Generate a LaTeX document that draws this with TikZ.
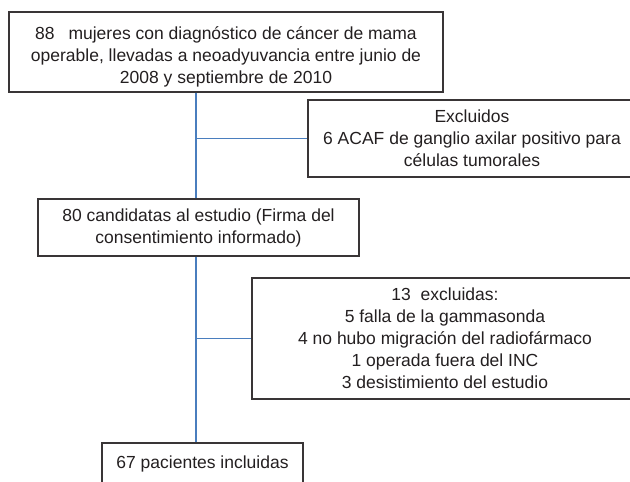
\documentclass[tikz,border=0pt]{standalone}
\usepackage{fontspec}
\setmainfont{Liberation Sans}
\definecolor{txt}{RGB}{35,31,32}
\definecolor{lnk}{RGB}{74,126,190}
\begin{document}
\begin{tikzpicture}[x=1pt,y=-1pt,
  box/.style={draw=txt!90, line width=1.1pt, text=txt, align=center, inner sep=0pt,
     font=\fontsize{17.5}{22}\selectfont, anchor=center},
  link/.style={draw=lnk, line width=1.2pt}]
\useasboundingbox (0,0) rectangle (630,482);
\clip (0,0) rectangle (630,482);
\node[box, minimum width=434pt, minimum height=80pt] (top) at (226,52)
  {\rule{0pt}{22pt}88\hspace{9pt} mujeres con diagnóstico de cáncer de mama\hspace{12pt}\\operable, llevadas a neoadyuvancia entre junio de\\2008 y septiembre de 2010};
\node[box, minimum width=328pt, minimum height=77pt] (excl) at (472,138.5)
  {Excluidos\\6 ACAF de ganglio axilar positivo para\\células tumorales};
\node[box, minimum width=321pt, minimum height=57pt] (cand) at (198.5,227.5)
  {80 candidatas al estudio (Firma del\\consentimiento informado)};
\node[box, minimum width=386pt, minimum height=121pt] (excl2) at (445,338.5)
  {13\hspace{5pt} excluidas:\\5 falla de la gammasonda\\4 no hubo migración del radiofármaco\\1 operada fuera del INC\\3 desistimiento del estudio};
\node[box, minimum width=201pt, minimum height=42pt] (incl) at (202.5,464)
  {67 pacientes incluidas};
\coordinate (spine) at (196,0);
\draw[link] (top.south -| spine) -- (cand.north -| spine);
\draw[link] (cand.south -| spine) -- (incl.north -| spine);
\draw[link] (excl.west -| spine) -- (excl.west);
\draw[link] (excl2.west -| spine) -- (excl2.west);
\end{tikzpicture}
\end{document}
